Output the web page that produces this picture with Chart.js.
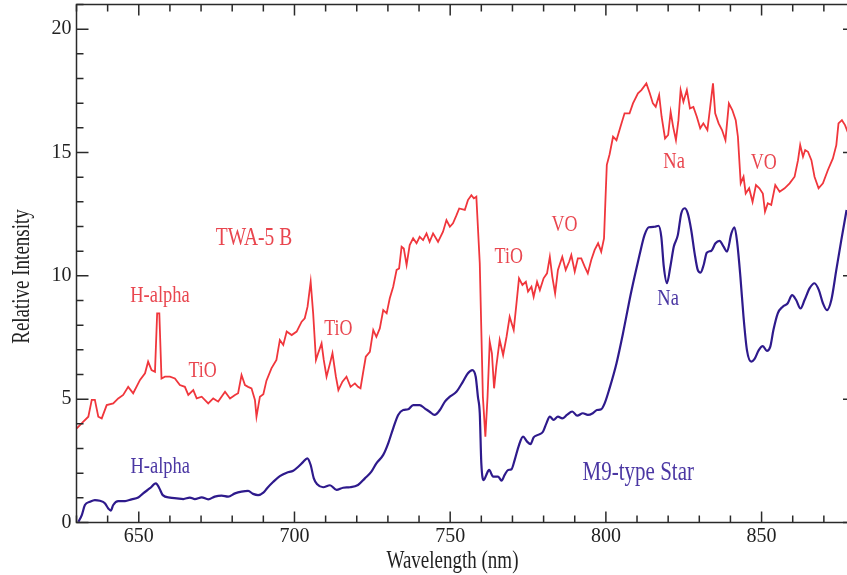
<!DOCTYPE html>
<html>
<head>
<meta charset="utf-8">
<script src="https://cdn.jsdelivr.net/npm/chart.js@4.4.1/dist/chart.umd.min.js"></script>
<style>
  html, body { margin: 0; padding: 0; background: #fff; overflow: hidden; }
  #wrap { width: 856px; height: 575px; position: relative; }
</style>
</head>
<body>
<div id="wrap"><canvas id="chart"></canvas></div>
<script>
// TWA-5 B spectrum (red)
const twaWave = [630.1, 632.2, 633.8, 634.9, 635.9, 637.0, 638.1, 639.7, 641.8, 643.4, 645.0, 646.6, 648.2, 650.4, 652.0, 653.0, 654.1, 655.2, 655.9, 656.6, 657.3, 658.4, 660.0, 661.6, 663.2, 664.8, 665.9, 667.5, 668.6, 670.2, 672.3, 673.9, 675.5, 677.7, 679.3, 680.9, 681.9, 683.0, 684.1, 685.1, 686.2, 687.3, 687.8, 688.9, 690.0, 691.0, 692.6, 694.2, 695.3, 696.4, 697.5, 699.1, 700.7, 702.3, 703.3, 704.2, 705.2, 706.0, 706.9, 707.6, 708.7, 709.4, 710.3, 711.4, 712.2, 713.3, 714.1, 715.4, 716.7, 718.0, 719.4, 720.4, 721.2, 722.0, 722.9, 724.2, 725.3, 726.3, 727.4, 728.5, 729.6, 730.6, 731.7, 732.8, 733.6, 734.4, 735.1, 736.0, 737.0, 738.1, 739.2, 740.2, 741.3, 742.4, 743.4, 744.5, 746.1, 747.7, 748.8, 749.9, 750.9, 752.0, 752.9, 754.7, 755.7, 756.8, 757.6, 758.4, 759.5, 760.5, 761.3, 762.0, 762.7, 763.4, 764.1, 764.8, 765.9, 767.0, 768.1, 769.1, 770.4, 771.3, 772.1, 773.2, 774.3, 775.0, 776.1, 776.8, 777.9, 778.8, 780.0, 781.1, 782.0, 782.8, 783.7, 784.6, 786.0, 787.1, 788.2, 788.9, 790.0, 791.0, 792.1, 793.2, 794.2, 795.3, 796.4, 797.5, 798.5, 799.4, 799.9, 800.3, 801.2, 802.3, 803.4, 805.0, 806.0, 807.6, 808.7, 810.3, 811.4, 813.0, 814.1, 815.1, 816.0, 817.1, 817.9, 819.0, 820.0, 820.8, 821.6, 822.5, 823.3, 824.0, 824.9, 826.0, 827.0, 828.1, 829.2, 830.3, 831.3, 832.6, 833.5, 834.4, 835.1, 836.2, 837.3, 838.4, 839.5, 840.6, 841.7, 842.4, 843.3, 844.2, 844.9, 846.0, 847.1, 848.2, 849.3, 850.4, 851.1, 852.0, 853.1, 854.4, 855.8, 857.4, 859.0, 860.6, 861.7, 862.4, 863.3, 864.0, 864.9, 866.0, 867.0, 868.3, 869.7, 871.3, 872.9, 874.0, 874.7, 875.8, 876.8, 877.8];
const twaFlux = [3.82, 4.09, 4.29, 4.97, 4.97, 4.29, 4.22, 4.76, 4.83, 5.03, 5.17, 5.50, 5.24, 5.78, 6.05, 6.52, 6.18, 6.11, 8.48, 8.48, 5.84, 5.91, 5.91, 5.84, 5.57, 5.50, 5.17, 5.37, 5.03, 5.10, 4.83, 5.03, 4.90, 5.30, 5.03, 5.17, 5.24, 5.98, 5.57, 5.50, 5.44, 4.97, 4.29, 5.10, 5.20, 5.75, 6.25, 6.59, 7.40, 7.20, 7.74, 7.60, 7.74, 8.14, 8.28, 8.75, 9.76, 8.48, 6.59, 6.86, 7.26, 6.59, 5.91, 6.45, 6.86, 5.91, 5.37, 5.71, 5.91, 5.50, 5.64, 5.50, 5.44, 6.05, 6.72, 6.92, 7.80, 7.53, 7.87, 8.61, 8.48, 9.09, 9.56, 10.24, 10.30, 11.18, 11.11, 10.44, 11.25, 11.52, 11.32, 11.58, 11.45, 11.72, 11.38, 11.72, 11.38, 11.79, 12.26, 11.99, 12.13, 12.45, 12.73, 12.67, 13.07, 13.27, 13.14, 13.21, 10.51, 5.10, 3.48, 5.10, 7.33, 6.86, 5.44, 6.32, 7.40, 6.79, 7.53, 8.34, 7.80, 8.89, 9.90, 9.63, 9.76, 9.36, 9.56, 9.15, 9.76, 9.42, 9.90, 10.10, 10.77, 9.96, 9.29, 10.24, 10.77, 10.24, 10.57, 10.84, 10.17, 10.71, 10.71, 10.37, 10.10, 10.64, 11.05, 11.32, 10.98, 11.52, 13.21, 14.50, 14.93, 15.64, 15.50, 16.18, 16.59, 16.59, 16.99, 17.40, 17.53, 17.80, 17.40, 16.99, 16.85, 17.33, 16.45, 15.57, 15.71, 16.65, 16.04, 15.50, 16.31, 17.53, 17.06, 17.53, 16.79, 16.85, 16.45, 15.98, 16.18, 15.91, 16.85, 17.80, 16.59, 16.18, 15.91, 15.50, 16.99, 16.72, 16.31, 15.64, 13.75, 14.02, 13.34, 13.55, 13.00, 13.68, 13.55, 13.34, 12.60, 12.94, 12.87, 13.68, 13.41, 13.55, 13.75, 14.02, 14.69, 15.30, 14.83, 15.10, 15.03, 14.69, 14.02, 13.55, 13.75, 14.29, 14.76, 15.30, 16.18, 16.31, 16.11, 15.78];

// M9-type comparison star (blue)
const m9Wave = [630.6, 631.7, 632.7, 634.3, 635.9, 637.5, 639.1, 640.2, 641.0, 641.8, 643.4, 645.6, 647.7, 649.8, 651.4, 653.6, 655.5, 656.6, 657.7, 660.0, 662.2, 664.3, 666.4, 668.0, 670.2, 672.3, 674.4, 676.6, 678.7, 680.9, 683.0, 685.1, 686.7, 688.3, 690.0, 691.2, 693.2, 695.3, 697.5, 699.6, 701.2, 702.8, 704.1, 705.2, 706.2, 707.3, 709.2, 711.4, 713.5, 715.6, 717.8, 720.4, 722.6, 724.7, 726.3, 728.5, 730.1, 731.7, 733.3, 734.9, 736.5, 738.1, 740.2, 741.8, 743.4, 745.0, 746.7, 748.3, 749.9, 752.0, 754.1, 755.7, 757.1, 758.2, 758.9, 759.5, 760.0, 760.8, 761.6, 762.5, 763.8, 765.4, 766.5, 767.5, 768.6, 769.7, 770.7, 772.1, 773.4, 774.7, 775.8, 776.8, 778.2, 779.8, 780.9, 782.0, 783.2, 784.6, 786.0, 787.5, 789.2, 790.8, 792.6, 794.2, 795.8, 797.1, 798.5, 799.6, 801.2, 803.4, 805.5, 807.6, 809.2, 810.8, 812.4, 813.8, 815.7, 816.9, 817.8, 818.6, 819.6, 820.7, 821.8, 823.1, 824.2, 825.3, 826.3, 827.4, 828.5, 829.5, 830.4, 831.4, 832.4, 833.9, 835.2, 836.5, 837.8, 838.9, 840.3, 841.3, 842.2, 843.2, 844.2, 845.3, 846.7, 847.7, 849.1, 850.4, 851.7, 852.8, 853.8, 855.2, 856.8, 858.4, 859.8, 861.1, 862.5, 863.8, 865.4, 867.0, 868.4, 869.7, 871.0, 872.4, 874.0, 875.6, 877.3];
const m9Flux = [0.03, 0.30, 0.71, 0.84, 0.91, 0.88, 0.78, 0.57, 0.48, 0.71, 0.87, 0.87, 0.94, 1.01, 1.18, 1.39, 1.59, 1.39, 1.11, 1.01, 0.98, 0.95, 1.01, 0.95, 1.02, 0.94, 1.05, 1.09, 1.05, 1.18, 1.25, 1.28, 1.16, 1.11, 1.21, 1.39, 1.65, 1.88, 2.02, 2.10, 2.26, 2.46, 2.60, 2.33, 1.79, 1.55, 1.43, 1.51, 1.32, 1.41, 1.43, 1.52, 1.79, 2.06, 2.40, 2.74, 3.21, 3.82, 4.36, 4.56, 4.59, 4.76, 4.76, 4.63, 4.49, 4.36, 4.56, 4.90, 5.10, 5.30, 5.71, 6.05, 6.18, 5.91, 5.10, 4.43, 2.40, 1.72, 1.93, 2.13, 1.86, 1.86, 1.70, 1.93, 2.13, 2.16, 2.53, 3.14, 3.48, 3.28, 3.18, 3.45, 3.55, 3.68, 4.02, 4.29, 4.16, 4.29, 4.22, 4.36, 4.50, 4.33, 4.43, 4.36, 4.43, 4.56, 4.59, 4.83, 5.45, 6.45, 7.67, 9.02, 9.96, 10.84, 11.65, 11.97, 11.99, 12.03, 11.58, 10.37, 9.70, 10.37, 11.18, 11.65, 12.53, 12.74, 12.53, 11.86, 10.91, 10.24, 10.13, 10.44, 10.94, 11.02, 11.32, 11.42, 11.18, 10.98, 11.72, 11.97, 11.32, 9.96, 8.34, 6.99, 6.52, 6.62, 6.99, 7.15, 6.96, 7.13, 7.80, 8.48, 8.75, 8.89, 9.22, 9.02, 8.68, 9.02, 9.49, 9.70, 9.42, 8.89, 8.61, 9.02, 10.24, 11.45, 12.67];

const xTickLabels = [650, 700, 750, 800, 850];
const yTickLabels = [0, 5, 10, 15, 20];

// line identifications
const labelText = ["TWA-5 B", "H-alpha", "TiO", "TiO", "TiO", "VO", "Na", "VO", "H-alpha", "Na", "M9-type Star"];
const labelWave = [687.0, 656.8, 670.5, 714.1, 768.8, 786.7, 821.9, 850.7, 656.9, 820.0, 810.4];
const labelFlux = [11.53, 9.20, 6.14, 7.84, 10.77, 12.06, 14.63, 14.57, 2.26, 9.09, 2.03];
const labelSize = [19.5, 18.5, 18, 18, 18, 18, 18.5, 18, 18.5, 18.5, 21];
const labelSeries = [0, 0, 0, 0, 0, 0, 0, 0, 1, 1, 1];

const RED = "#f0363c";
const BLUE = "#2e1a8c";
const TEXT_COLORS = ["#e9464f", "#4b37a3"];
const SERIF = '"Liberation Serif", "Times New Roman", serif';
const AXIS = "#2a2a2a";

const toPoints = (xs, ys) => xs.map((x, i) => ({ x: x, y: ys[i] }));

function stretchText(ctx, text, x, y, size, color, angle) {
  ctx.save();
  ctx.translate(x, y);
  if (angle) ctx.rotate(angle);
  ctx.scale(1, 1.3);
  ctx.font = size + "px " + SERIF;
  ctx.fillStyle = color;
  ctx.textAlign = "center";
  ctx.textBaseline = "middle";
  ctx.fillText(text, 0, 0);
  ctx.restore();
}

// frame with inward ticks, axis titles, line labels
const framePlugin = {
  id: "frame",
  afterDraw(chart) {
    const { ctx, chartArea: a, scales } = chart;
    const xs = scales.x, ys = scales.y;
    ctx.save();
    ctx.strokeStyle = AXIS;
    ctx.lineWidth = 1.5;
    ctx.strokeRect(a.left, a.top, a.right - a.left, a.bottom - a.top);

    ctx.beginPath();
    for (let v = 630; v <= 880; v += 10) {
      const px = xs.getPixelForValue(v);
      const len = v % 50 === 0 ? 11 : 7;
      ctx.moveTo(px, a.bottom); ctx.lineTo(px, a.bottom - len);
      ctx.moveTo(px, a.top); ctx.lineTo(px, a.top + len);
    }
    for (let v = 0; v <= 21; v += 1) {
      const py = ys.getPixelForValue(v);
      const len = v % 5 === 0 ? 12 : 7;
      ctx.moveTo(a.left, py); ctx.lineTo(a.left + len, py);
      ctx.moveTo(a.right, py); ctx.lineTo(a.right - len, py);
    }
    ctx.stroke();
    ctx.restore();

    stretchText(ctx, "Wavelength (nm)", a.left + 376, a.bottom + 39.5, 19, "#222");
    stretchText(ctx, "Relative Intensity", 22.5, a.top + 272, 19, "#222", -Math.PI / 2);

    labelText.forEach((t, i) => {
      stretchText(ctx, t, xs.getPixelForValue(labelWave[i]), ys.getPixelForValue(labelFlux[i]),
        labelSize[i], TEXT_COLORS[labelSeries[i]]);
    });
  }
};

new Chart(document.getElementById("chart"), {
  type: "line",
  data: {
    datasets: [
      {
        label: "TWA-5 B",
        data: toPoints(twaWave, twaFlux),
        borderColor: RED,
        borderWidth: 1.8,
        pointRadius: 0,
        tension: 0,
        fill: false,
      },
      {
        label: "M9-type Star",
        data: toPoints(m9Wave, m9Flux),
        borderColor: BLUE,
        borderWidth: 2.2,
        pointRadius: 0,
        cubicInterpolationMode: "monotone",
        fill: false,
      },
    ],
  },
  options: {
    responsive: true,
    maintainAspectRatio: false,
    animation: false,
    layout: { padding: { top: 4.5, right: 1, left: 0, bottom: 0 } },
    plugins: { legend: { display: false }, tooltip: { enabled: false } },
    scales: {
      x: {
        type: "linear",
        min: 630,
        max: 880,
        grid: { display: false, drawTicks: false },
        border: { display: false },
        afterBuildTicks: (s) => { s.ticks = xTickLabels.map((v) => ({ value: v })); },
        afterFit: (s) => { s.height = 52.5; s.paddingLeft = 0; s.paddingRight = 0; },
        ticks: {
          autoSkip: false,
          maxRotation: 0,
          padding: 2,
          color: "#222",
          font: { family: SERIF, size: 20 },
        },
      },
      y: {
        min: 0,
        max: 21,
        grid: { display: false, drawTicks: false },
        border: { display: false },
        afterBuildTicks: (s) => { s.ticks = yTickLabels.map((v) => ({ value: v })); },
        afterFit: (s) => { s.width = 76.5; s.paddingTop = 0; s.paddingBottom = 0; },
        ticks: {
          padding: 5,
          color: "#222",
          font: { family: SERIF, size: 20 },
        },
      },
    },
  },
  plugins: [framePlugin],
});
</script>
</body>
</html>
